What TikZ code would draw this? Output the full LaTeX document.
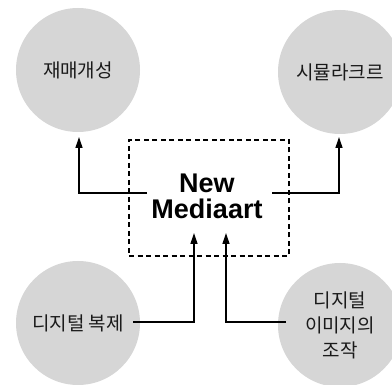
\documentclass[tikz,border=0pt]{standalone}
\usepackage{fontspec}
\setmainfont{Liberation Sans}
\newfontfamily\kofont{Noto Sans CJK KR}
\usetikzlibrary{arrows.meta}
\definecolor{circgray}{HTML}{D6D6D6}
\definecolor{kotext}{HTML}{1A1A1A}
\begin{document}
\begin{tikzpicture}[x=1pt,y=-1pt,
  circ/.style={circle,fill=circgray,draw=none,minimum size=124pt,inner sep=0pt,
    font=\kofont\fontsize{19}{25}\selectfont,text=kotext,align=center},
  conn/.style={line width=1.3pt,-{Triangle[length=11pt,width=7pt]}},
  dbox/.style={draw,dashed,dash pattern=on 5pt off 3.5pt,line width=1.2pt,
    minimum width=160pt,minimum height=116pt,inner sep=0pt}]
\useasboundingbox (0,0) rectangle (392,385);
\node[circ] (c1) at (78,70) {재매개성};
\node[circ] (c2) at (340,72) {시뮬라크르};
\node[circ] (c3) at (78,323) {디지털 복제};
\node[circ] (c4) at (340,325) {디지털\\이미지의\\조작};
\node[dbox] (box) at (209,198) {};
\node[font=\bfseries\fontsize{27}{27}\selectfont,align=center] (t) at (207,196) {New\\[-1pt]Mediaart};
% free ends
\coordinate (s1) at (147,193);
\coordinate (s2) at (272,193);
\coordinate (s3) at (133,322);
\coordinate (s4) at (286,322);
\coordinate (e1) at (79,137);
\coordinate (e2) at (339,137);
\coordinate (e3) at (194,233);
\coordinate (e4) at (226,233);
\draw[conn] (s1) -| (e1);
\draw[conn] (s2) -| (e2);
\draw[conn] (s3) -| (e3);
\draw[conn] (s4) -| (e4);
\end{tikzpicture}
\end{document}
